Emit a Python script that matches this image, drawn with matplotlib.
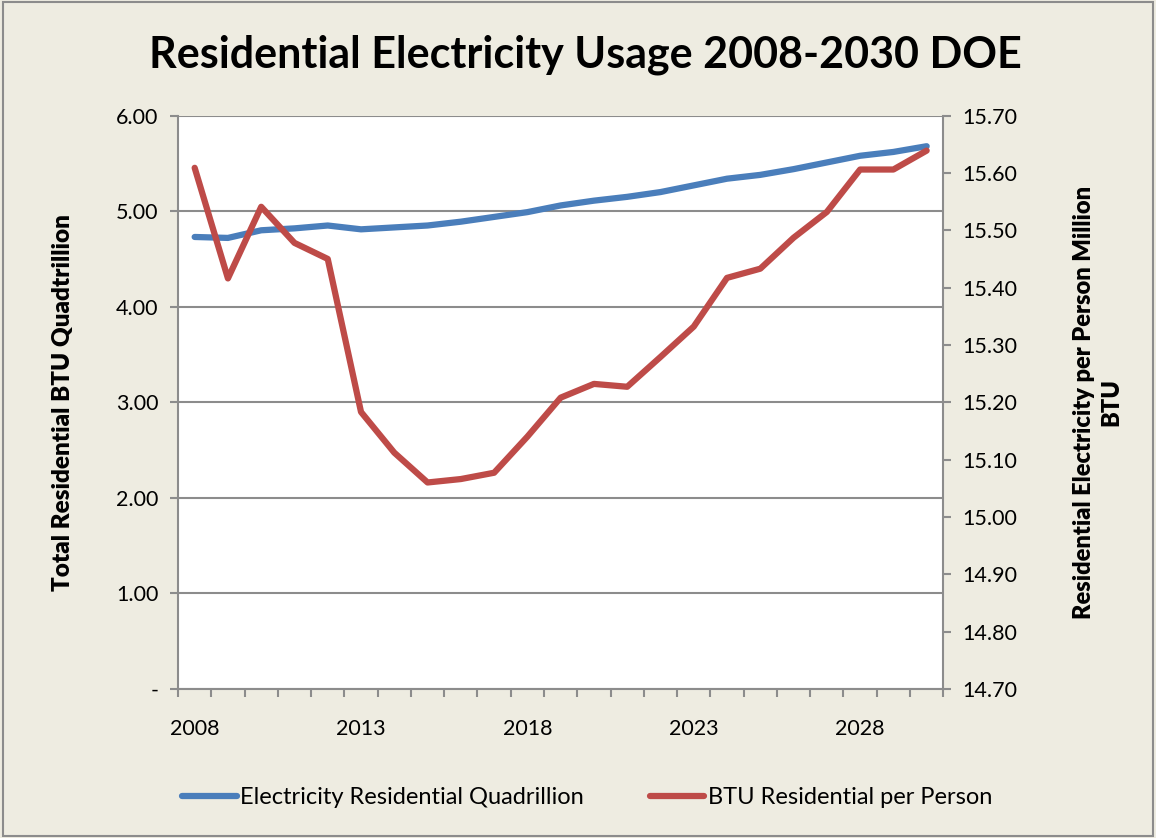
import matplotlib
matplotlib.use("Agg")

import numpy as np
import matplotlib.pyplot as plt
from matplotlib.ticker import FuncFormatter, FixedLocator

plt.rcParams["font.family"] = ["Lato", "DejaVu Sans"]

years = list(range(2008, 2031))
electricity_quad = [4.73, 4.72, 4.80, 4.82, 4.85, 4.81, 4.83, 4.85, 4.89, 4.94,
                    4.99, 5.06, 5.11, 5.15, 5.20, 5.27, 5.34, 5.38, 5.44, 5.51,
                    5.58, 5.62, 5.68]
btu_per_person = [15.609, 15.416, 15.541, 15.478, 15.450, 15.183, 15.112, 15.060,
                  15.066, 15.077, 15.140, 15.208, 15.232, 15.227, 15.279, 15.332,
                  15.417, 15.433, 15.487, 15.532, 15.606, 15.606, 15.639]
tick_years = [2008, 2013, 2018, 2023, 2028]

BG = "#EEECE1"
BLUE = "#4A7EBB"
RED = "#BE4B48"
GRID = "#8C8C8C"

fig = plt.figure(figsize=(11.56, 8.38), dpi=100, facecolor=BG)
ax = fig.add_axes([0.154, 0.178, 0.662, 0.684])
ax2 = ax.twinx()
ax.set_facecolor("white")

x = np.arange(len(years))
ax.plot(x, electricity_quad, color=BLUE, lw=4.5, solid_capstyle="round", zorder=3,
        label="Electricity Residential Quadrillion")
ax2.plot(x, btu_per_person, color=RED, lw=4.5, solid_capstyle="round", zorder=3,
         label="BTU Residential per Person")

ax.set_xlim(-0.5, len(years) - 0.5)
ax.set_ylim(0, 6)
ax2.set_ylim(14.70, 15.70)

ax.set_yticks(np.arange(0, 6.01, 1))
ax.yaxis.set_major_formatter(FuncFormatter(lambda v, p: "-" if v == 0 else f"{v:.2f}"))
ax2.set_yticks(np.arange(14.70, 15.701, 0.10))
ax2.yaxis.set_major_formatter(FuncFormatter(lambda v, p: f"{v:.2f}"))

ax.grid(axis="y", color=GRID, lw=1.5)
ax.set_axisbelow(True)

# category boundaries get tick marks, labels every 5 years
ax.xaxis.set_major_locator(FixedLocator([years.index(y) for y in tick_years]))
ax.set_xticklabels([str(y) for y in tick_years])
ax.xaxis.set_minor_locator(FixedLocator(np.arange(-0.5, len(years), 1)))
ax.tick_params(axis="x", which="major", length=0, pad=22, labelsize=15.5)
ax.tick_params(axis="x", which="minor", length=6, width=1.5, color=GRID)
ax.tick_params(axis="y", length=6, width=1.5, color=GRID, labelsize=15.5, pad=8)
ax2.tick_params(axis="y", length=6, width=1.5, color=GRID, labelsize=15.5, pad=8)

for a in (ax, ax2):
    for side in ("top", "right", "left", "bottom"):
        a.spines[side].set_visible(False)
for a, side in ((ax, "left"), (ax, "bottom"), (ax2, "right")):
    a.spines[side].set_visible(True)
    a.spines[side].set_color(GRID)
    a.spines[side].set_linewidth(1.5)

ax.set_ylabel("Total Residential BTU Quadtrillion", fontsize=17.5, fontweight="heavy",
              labelpad=30)
ax2.set_ylabel("Residential Electricity per Person Million\nBTU", fontsize=17,
               fontweight="heavy", labelpad=40, rotation=90, linespacing=1.3)

fig.text(0.506, 0.935, "Residential Electricity Usage 2008-2030 DOE", ha="center",
         va="center", fontsize=31, fontweight="bold")

h1, l1 = ax.get_legend_handles_labels()
h2, l2 = ax2.get_legend_handles_labels()
fig.legend(h1 + h2, l1 + l2, loc="center", bbox_to_anchor=(0.508, 0.048), ncol=2,
           frameon=False, fontsize=17, handlelength=2.3, columnspacing=2.8,
           handletextpad=0.15)

# outer border of chart area
fig.patches.append(plt.Rectangle((0.003, 0.002), 0.994, 0.996, transform=fig.transFigure,
                                 fill=False, edgecolor=GRID, lw=1.5))

fig.savefig("out.png", dpi=100, facecolor=BG)
